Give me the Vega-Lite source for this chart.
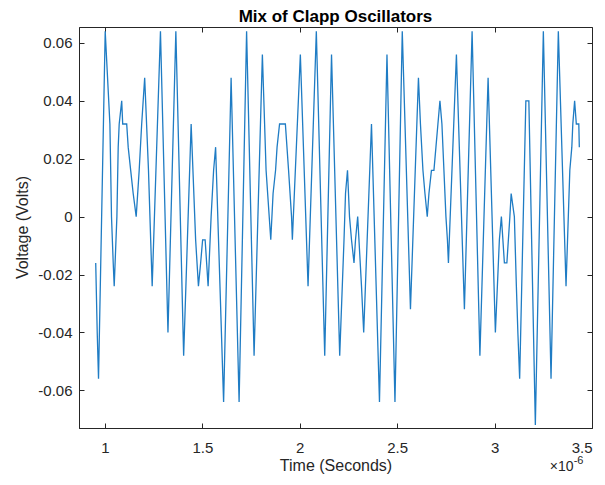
{
  "$schema": "https://vega.github.io/schema/vega-lite/v6.json",
  "width": 513,
  "height": 401,
  "autosize": {"type": "none"},
  "padding": {"left": 79, "top": 27, "right": 13, "bottom": 57},
  "background": "white",
  "title": {"text": "Mix of Clapp Oscillators", "fontSize": 17, "fontWeight": "bold", "color": "#000000", "offset": 1, "anchor": "middle", "font": "Liberation Sans"},
  "config": {
    "font": "Liberation Sans",
    "view": {"stroke": "#262626", "strokeWidth": 1},
    "axis": {"grid": false, "domainColor": "#262626", "tickColor": "#262626", "labelColor": "#262626", "titleColor": "#262626", "labelFontSize": 15, "titleFontSize": 16, "titleFontWeight": "normal", "tickSize": -5, "labelFont": "Liberation Sans", "titleFont": "Liberation Sans"}
  },
  "datasets": {
    "sig": [
      {"t": 0.9528, "v": -0.016}, {"t": 0.9605, "v": -0.040}, {"t": 0.9672, "v": -0.056}, {"t": 1.0015, "v": 0.064},
      {"t": 1.0256, "v": 0.032}, {"t": 1.0338, "v": 0}, {"t": 1.0426, "v": -0.016}, {"t": 1.0477, "v": -0.024},
      {"t": 1.0615, "v": 0}, {"t": 1.0682, "v": 0.024}, {"t": 1.0733, "v": 0.032}, {"t": 1.0862, "v": 0.040},
      {"t": 1.0913, "v": 0.032}, {"t": 1.1118, "v": 0.032}, {"t": 1.1195, "v": 0.024}, {"t": 1.1323, "v": 0.016},
      {"t": 1.1451, "v": 0.008}, {"t": 1.1605, "v": 0}, {"t": 1.1759, "v": 0.016}, {"t": 1.1887, "v": 0.032},
      {"t": 1.2041, "v": 0.048}, {"t": 1.2236, "v": 0.016}, {"t": 1.2349, "v": -0.008}, {"t": 1.2426, "v": -0.024},
      {"t": 1.2851, "v": 0.064}, {"t": 1.3236, "v": -0.040}, {"t": 1.3641, "v": 0.064}, {"t": 1.4041, "v": -0.048},
      {"t": 1.4426, "v": 0.032}, {"t": 1.4656, "v": -0.008}, {"t": 1.4800, "v": -0.024}, {"t": 1.4913, "v": -0.016},
      {"t": 1.5015, "v": -0.008}, {"t": 1.5144, "v": -0.008}, {"t": 1.5221, "v": -0.016}, {"t": 1.5297, "v": -0.024},
      {"t": 1.5451, "v": 0}, {"t": 1.5579, "v": 0.016}, {"t": 1.5682, "v": 0.024}, {"t": 1.6092, "v": -0.064},
      {"t": 1.6477, "v": 0.048}, {"t": 1.6887, "v": -0.064}, {"t": 1.7272, "v": 0.064}, {"t": 1.7656, "v": -0.048},
      {"t": 1.8082, "v": 0.056}, {"t": 1.8272, "v": 0.016}, {"t": 1.8513, "v": -0.008}, {"t": 1.8631, "v": 0.008},
      {"t": 1.8759, "v": 0.016}, {"t": 1.8836, "v": 0.024}, {"t": 1.8964, "v": 0.032}, {"t": 1.9262, "v": 0.032},
      {"t": 1.9426, "v": 0.016}, {"t": 1.9579, "v": 0}, {"t": 1.9621, "v": -0.008}, {"t": 2.0031, "v": 0.056},
      {"t": 2.0426, "v": -0.024}, {"t": 2.0851, "v": 0.064}, {"t": 2.1282, "v": -0.048}, {"t": 2.1631, "v": 0.056},
      {"t": 2.2051, "v": -0.048}, {"t": 2.2272, "v": -0.008}, {"t": 2.2349, "v": 0.008}, {"t": 2.2451, "v": 0.016},
      {"t": 2.2554, "v": 0}, {"t": 2.2656, "v": -0.008}, {"t": 2.2785, "v": -0.016}, {"t": 2.2862, "v": -0.008},
      {"t": 2.2974, "v": 0}, {"t": 2.3169, "v": -0.024}, {"t": 2.3282, "v": -0.040}, {"t": 2.3682, "v": 0.032},
      {"t": 2.4092, "v": -0.064}, {"t": 2.4477, "v": 0.056}, {"t": 2.4887, "v": -0.064}, {"t": 2.5262, "v": 0.064},
      {"t": 2.5682, "v": -0.032}, {"t": 2.6092, "v": 0.048}, {"t": 2.6195, "v": 0.032}, {"t": 2.6323, "v": 0.016},
      {"t": 2.6426, "v": 0.008}, {"t": 2.6544, "v": 0}, {"t": 2.6631, "v": 0.008}, {"t": 2.6759, "v": 0.016},
      {"t": 2.6887, "v": 0.016}, {"t": 2.6990, "v": 0.024}, {"t": 2.7092, "v": 0.032}, {"t": 2.7195, "v": 0.040},
      {"t": 2.7297, "v": 0.032}, {"t": 2.7400, "v": 0.016}, {"t": 2.7503, "v": 0}, {"t": 2.7579, "v": -0.008},
      {"t": 2.7631, "v": -0.016}, {"t": 2.8041, "v": 0.056}, {"t": 2.8451, "v": -0.032}, {"t": 2.8846, "v": 0.064},
      {"t": 2.9246, "v": -0.048}, {"t": 2.9667, "v": 0.048}, {"t": 3.0041, "v": -0.040}, {"t": 3.0246, "v": -0.008},
      {"t": 3.0349, "v": 0}, {"t": 3.0426, "v": -0.008}, {"t": 3.0503, "v": -0.016}, {"t": 3.0631, "v": -0.016},
      {"t": 3.0708, "v": -0.008}, {"t": 3.0785, "v": 0}, {"t": 3.0851, "v": 0.008}, {"t": 3.1015, "v": 0},
      {"t": 3.1118, "v": -0.024}, {"t": 3.1195, "v": -0.040}, {"t": 3.1287, "v": -0.056}, {"t": 3.1605, "v": 0.040},
      {"t": 3.1759, "v": 0.040}, {"t": 3.2092, "v": -0.072}, {"t": 3.2503, "v": 0.064}, {"t": 3.2897, "v": -0.056},
      {"t": 3.3272, "v": 0.064}, {"t": 3.3667, "v": -0.024}, {"t": 3.3862, "v": 0.016}, {"t": 3.3964, "v": 0.024},
      {"t": 3.4015, "v": 0.032}, {"t": 3.4108, "v": 0.040}, {"t": 3.4195, "v": 0.032}, {"t": 3.4323, "v": 0.032},
      {"t": 3.4349, "v": 0.024}
    ]
  },
  "layer": [
    {
      "data": {"name": "sig"},
      "mark": {"type": "line", "color": "#1f7cc4", "strokeWidth": 1.3, "clip": true},
      "encoding": {
        "x": {"field": "t", "type": "quantitative", "scale": {"domain": [0.867, 3.5], "nice": false, "zero": false},
              "axis": {"values": [1, 1.5, 2, 2.5, 3, 3.5], "title": "Time (Seconds)", "labelPadding": 17, "titleY": 42, "titleBaseline": "alphabetic", "labelExpr": "toString(datum.value)"}},
        "y": {"field": "v", "type": "quantitative", "scale": {"domain": [-0.073, 0.0655], "nice": false, "zero": false},
              "axis": {"values": [-0.06, -0.04, -0.02, 0, 0.02, 0.04, 0.06], "title": "Voltage (Volts)", "labelPadding": 12, "titleX": -49, "titleY": 200, "titleAngle": -90, "titleBaseline": "bottom", "labelExpr": "toString(round(datum.value*100)/100)"}}
      }
    },
    {
      "data": {"name": "sig"},
      "mark": {"type": "line", "opacity": 0},
      "encoding": {
        "x": {"field": "t", "type": "quantitative", "scale": {"domain": [0.867, 3.5], "nice": false, "zero": false},
              "axis": {"orient": "top", "values": [1, 1.5, 2, 2.5, 3, 3.5], "labels": false, "title": null, "domain": false}},
        "y": {"field": "v", "type": "quantitative", "scale": {"domain": [-0.073, 0.0655], "nice": false, "zero": false},
              "axis": {"orient": "right", "values": [-0.06, -0.04, -0.02, 0, 0.02, 0.04, 0.06], "labels": false, "title": null, "domain": false}}
      }
    },
    {
      "data": {"values": [{"label": "×10"}]},
      "mark": {"type": "text", "align": "left", "baseline": "alphabetic", "fontSize": 14, "color": "#262626", "dy": 43, "clip": false},
      "encoding": {
        "x": {"datum": 3.2835, "type": "quantitative", "axis": null},
        "y": {"datum": -0.073, "type": "quantitative", "axis": null},
        "text": {"field": "label"}
      }
    },
    {
      "data": {"values": [{"label": "-6"}]},
      "mark": {"type": "text", "align": "left", "baseline": "alphabetic", "fontSize": 11, "color": "#262626", "dy": 36, "clip": false},
      "encoding": {
        "x": {"datum": 3.4060, "type": "quantitative", "axis": null},
        "y": {"datum": -0.073, "type": "quantitative", "axis": null},
        "text": {"field": "label"}
      }
    }
  ],
  "resolve": {"axis": {"x": "independent", "y": "independent"}}
}
